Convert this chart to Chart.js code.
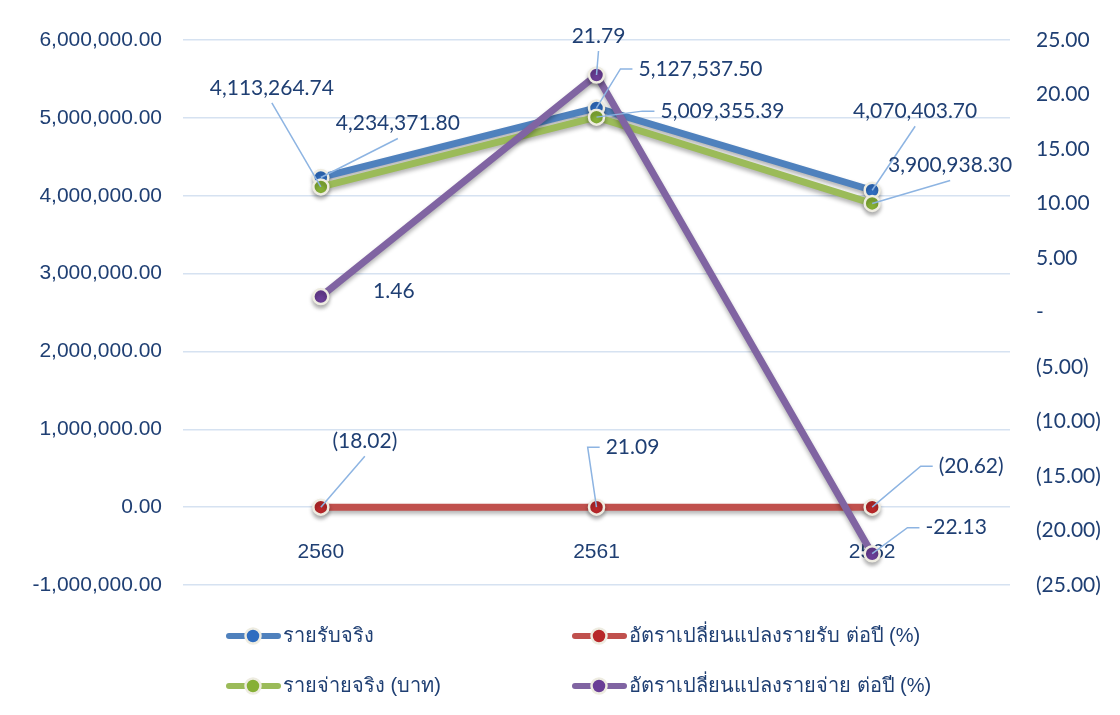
<!DOCTYPE html>
<html>
<head>
<meta charset="utf-8">
<script src="https://cdn.jsdelivr.net/npm/chart.js@4.4.1/dist/chart.umd.min.js"></script>
<style>
  html, body { margin: 0; padding: 0; background: #fff; }
  #wrap { width: 1120px; height: 715px; }
</style>
</head>
<body>
<div id="wrap"><canvas id="myChart" width="1120" height="715"></canvas></div>
<script>
// data
const years = ['2560', '2561', '2562'];
const income = [4234371.80, 5127537.50, 4070403.70];        // รายรับจริง
const incomeChange = [-18.02, 21.09, -20.62];               // อัตราเปลี่ยนแปลงรายรับ ต่อปี (%)
const expense = [4113264.74, 5009355.39, 3900938.30];       // รายจ่ายจริง (บาท)
const expenseChange = [1.46, 21.79, -22.13];                // อัตราเปลี่ยนแปลงรายจ่าย ต่อปี (%)
const leftAxis = { min: -1000000, max: 6000000, step: 1000000 };
const rightAxis = { min: -25, max: 25, step: 5 };

const TEXT = '#1F3F73';
const LEADER = '#8DB4E2';

const fmtMoney = (v) => v.toLocaleString('en-US', { minimumFractionDigits: 2, maximumFractionDigits: 2 });
const fmtAcct = (v) => (v === 0 ? '-' : v < 0 ? `(${Math.abs(v).toFixed(2)})` : v.toFixed(2));
const fmtPlain = (v) => v.toFixed(2);

// label placement: offset of the label centre from its point, leader attach side
const labelPos = {
  income: [[77, -54, 'b'], [104, -39, 'l'], [43, -79, 'b']],
  incomeChange: [[44, -66, 'b'], [36, -60, 'l'], [99, -41, 'l']],
  expense: [[-49, -99, 'b'], [126, -6, 'l'], [78, -38, 'b']],
  expenseChange: [[73, -5, 'n'], [2, -39, 'b'], [84, -26, 'l']],
};

function series(label, data, color, pointColor, axis, order, fmt, pos) {
  return {
    label,
    data,
    yAxisID: axis,
    order,
    borderColor: color,
    backgroundColor: color,
    borderWidth: 7,
    pointRadius: 7.5,
    pointHoverRadius: 7.5,
    pointBackgroundColor: pointColor,
    pointBorderColor: '#EEECE1',
    pointBorderWidth: 2.5,
    tension: 0,
    fmt,
    pos,
  };
}

const shadowPlugin = {
  id: 'lineShadow',
  beforeDatasetDraw(chart) {
    const { ctx } = chart;
    ctx.save();
    ctx.shadowColor = 'rgba(0,0,0,0.3)';
    ctx.shadowBlur = 4;
    ctx.shadowOffsetY = 3;
  },
  afterDatasetDraw(chart) {
    chart.ctx.restore();
  },
};

const labelPlugin = {
  id: 'pointLabels',
  afterDatasetsDraw(chart) {
    const { ctx } = chart;
    ctx.save();
    ctx.font = '21px Lato';
    ctx.textAlign = 'center';
    ctx.textBaseline = 'middle';
    chart.data.datasets.forEach((ds, i) => {
      const meta = chart.getDatasetMeta(i);
      meta.data.forEach((pt, j) => {
        const [dx, dy, side] = ds.pos[j];
        const text = ds.fmt(ds.data[j]);
        const w = ctx.measureText(text).width;
        const cx = pt.x + dx;
        const cy = pt.y + dy;
        ctx.strokeStyle = LEADER;
        ctx.lineWidth = 1.5;
        ctx.beginPath();
        if (side === 'b') {
          ctx.moveTo(cx, cy + 15);
          ctx.lineTo(pt.x, pt.y);
        } else if (side === 'l') {
          const sx = cx - w / 2 - 6;
          ctx.moveTo(sx, cy);
          ctx.lineTo(sx - 12, cy);
          ctx.lineTo(pt.x, pt.y);
        }
        ctx.stroke();
        ctx.fillStyle = TEXT;
        ctx.fillText(text, cx, cy);
      });
    });
    ctx.restore();
  },
};

const legendPlugin = {
  id: 'bottomLegend',
  afterDraw(chart) {
    const { ctx } = chart;
    const cols = [226, 572];
    const rows = [636, 686];
    const slots = [[0, 0], [1, 0], [0, 1], [1, 1]];
    ctx.save();
    chart.data.datasets.forEach((ds, k) => {
      const x = cols[slots[k][0]];
      const y = rows[slots[k][1]];
      ctx.strokeStyle = ds.borderColor;
      ctx.lineWidth = 6;
      ctx.lineCap = 'round';
      ctx.beginPath();
      ctx.moveTo(x + 3, y);
      ctx.lineTo(x + 52, y);
      ctx.stroke();
      ctx.beginPath();
      ctx.arc(x + 27, y, 7.5, 0, Math.PI * 2);
      ctx.fillStyle = ds.pointBackgroundColor;
      ctx.fill();
      ctx.lineWidth = 2.5;
      ctx.strokeStyle = '#EEECE1';
      ctx.stroke();
      ctx.fillStyle = TEXT;
      ctx.font = '20px "Liberation Sans", Arial, sans-serif';
      ctx.textAlign = 'left';
      ctx.textBaseline = 'middle';
      ctx.fillText(ds.label, x + 57, y);
    });
    ctx.restore();
  },
};

const ctx = document.getElementById('myChart').getContext('2d');
const chart = new Chart(ctx, {
  type: 'line',
  data: {
    labels: years,
    datasets: [
      series('รายรับจริง', income, '#4F81BD', '#2F6DC0', 'y', 3, fmtMoney, labelPos.income),
      series('อัตราเปลี่ยนแปลงรายรับ ต่อปี (%)', incomeChange, '#C0504D', '#B8282A', 'y', 2, fmtAcct, labelPos.incomeChange),
      series('รายจ่ายจริง (บาท)', expense, '#9BBB59', '#86B036', 'y', 1, fmtMoney, labelPos.expense),
      series('อัตราเปลี่ยนแปลงรายจ่าย ต่อปี (%)', expenseChange, '#8064A2', '#6A3E96', 'y1', 0, fmtPlain, labelPos.expenseChange),
    ],
  },
  options: {
    responsive: false,
    animation: false,
    layout: { padding: { top: 40, bottom: 130, left: 0, right: 0 } },
    plugins: {
      legend: { display: false },
      tooltip: { enabled: false },
    },
    scales: {
      x: {
        position: { y: 0 },
        offset: true,
        grid: { display: false, drawTicks: false, offset: true },
        border: { display: false },
        ticks: {
          color: TEXT,
          padding: 32,
          font: { family: 'Arial, "Liberation Sans", sans-serif', size: 21 },
        },
      },
      y: {
        position: 'left',
        min: leftAxis.min,
        max: leftAxis.max,
        afterFit: (scale) => { scale.width = 183; },
        grid: { color: '#D6E2F1', lineWidth: 1.5, drawTicks: false },
        border: { display: false },
        ticks: {
          stepSize: leftAxis.step,
          color: TEXT,
          padding: 21,
          font: { family: 'Arial, "Liberation Sans", sans-serif', size: 21 },
          callback: (v) => fmtMoney(v),
        },
      },
      y1: {
        position: 'right',
        min: rightAxis.min,
        max: rightAxis.max,
        afterFit: (scale) => { scale.width = 110; },
        grid: { display: false, drawTicks: false },
        border: { display: false },
        ticks: {
          stepSize: rightAxis.step,
          color: TEXT,
          padding: 26,
          font: { family: 'Lato, sans-serif', size: 21 },
          callback: (v) => fmtAcct(v),
        },
      },
    },
  },
  plugins: [shadowPlugin, labelPlugin, legendPlugin],
});
</script>
</body>
</html>
